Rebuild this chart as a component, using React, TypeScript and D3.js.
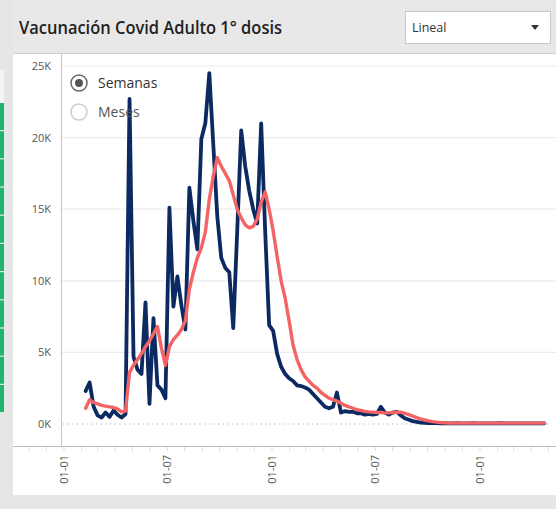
import React from 'react';
import * as d3 from 'd3';

// weekly series, first week starting 2021-02-08
const startWeek = new Date(2021, 1, 8);

const semanas = [
  2300, 2900, 1200, 600, 450, 800, 500, 950, 650, 450,
  700, 22700, 4700, 3800, 3500, 8500, 1400, 7400, 2700, 2400,
  1800, 15100, 8200, 10300, 8300, 6600, 16500, 14200, 12200, 19900,
  21000, 24500, 19500, 14500, 11600, 10900, 10600, 6700, 13500, 20500,
  18000, 16300, 15000, 14000, 21000, 13500, 6900, 6500, 4900, 4000,
  3500, 3200, 3000, 2700, 2650, 2550, 2400, 2100, 1800, 1500,
  1200, 1100, 1200, 2200, 800, 900, 850, 850, 750, 750,
  650, 700, 650, 700, 1200, 800, 650, 800, 850, 600,
  400, 300, 200, 150, 100, 80, 70, 60, 60, 50,
  60, 50, 50, 60, 50, 40, 50, 60, 50, 40,
  50, 50, 40, 50, 60, 50, 40, 50, 50, 40,
  50, 40, 50, 40, 40, 50,
];

const tendencia = [
  1100, 1700, 1500, 1400, 1300, 1250, 1200, 1150, 1050, 850,
  900, 3600, 4100, 4500, 4900, 5400, 5800, 6300, 6800, 5300,
  4100, 5400, 5900, 6200, 6600, 7200, 9400, 10600, 11600, 12300,
  13400, 15700, 17300, 18600, 18000, 17500, 17000, 16000, 15000, 14400,
  13900, 13700, 13800, 14300, 15500, 16200, 15000, 13500, 11700, 10000,
  8800, 7200, 5500, 4500, 3800, 3300, 3000, 2700, 2500, 2200,
  2000, 1800, 1700, 1600, 1450, 1300, 1200, 1100, 1000, 950,
  880, 850, 830, 800, 800, 780, 780, 800, 820, 830,
  750, 650, 550, 450, 350, 280, 220, 170, 130, 100,
  80, 60, 60, 60, 60, 60, 60, 60, 60, 60,
  60, 60, 60, 60, 60, 60, 60, 60, 60, 60,
  60, 60, 60, 60, 60, 60,
];

const yTicks = [0, 5000, 10000, 15000, 20000, 25000];
const legendItems = ['Semanas', 'Meses'];
const title = 'Vacunación Covid Adulto 1° dosis';
const dropdownLabel = 'Lineal';

const W = 556;
const H = 509;
const FONT = '"Open Sans", "Segoe UI", sans-serif';

export default function App() {
  const x = d3.scaleTime()
    .domain([new Date(2021, 0, 1), new Date(2023, 0, 1)])
    .range([64, 480]);
  const y = d3.scaleLinear().domain([0, 25000]).range([424, 66]);

  const dates = semanas.map((_, i) => d3.timeWeek.offset(startWeek, i));

  const line = d3.line<number>()
    .x((_, i) => x(dates[i]))
    .y(d => y(d));

  const months = d3.timeMonth.range(new Date(2020, 10, 1), new Date(2023, 7, 1))
    .filter(d => x(d) > 14 && x(d) < W - 2);
  const fmt = d3.timeFormat('%d-%m');

  return (
    <div style={{ position: 'fixed', left: 0, top: 0 }}>
      <svg width={W} height={H} style={{ display: 'block', background: '#fff' }}>
        {/* left strip */}
        <rect x={0} y={0} width={13} height={H} fill="#e6e6e6" />
        <rect x={0} y={70} width={4} height={33} fill="#f4f4f4" />
        {d3.range(11).map(i => (
          <rect key={i} x={0} y={103 + i * 28.2} width={4} height={27} fill="#1fb56f" />
        ))}

        {/* header */}
        <rect x={13} y={0} width={W - 13} height={53} fill="#e8e8e8" />
        <line x1={13} x2={W} y1={53.5} y2={53.5} stroke="#cfcfcf" />
        <text x={19} y={34} fontFamily={FONT} fontSize={17.5} fontWeight={600} fill="#222"
          textLength={263} lengthAdjust="spacingAndGlyphs">{title}</text>
        <rect x={405.5} y={11.5} width={145} height={32} fill="#fff" stroke="#c8c8c8" />
        <text x={412} y={32} fontFamily={FONT} fontSize={12.5} fill="#333">{dropdownLabel}</text>
        <path d="M531,25 L539,25 L535,30 Z" fill="#333" />

        {/* grid */}
        {yTicks.map(t => t === 0 ? (
          <line key={t} x1={63} x2={W - 4} y1={y(t)} y2={y(t)} stroke="#aaa" strokeDasharray="1.2,3.5" />
        ) : (
          <line key={t} x1={61} x2={W} y1={y(t)} y2={y(t)} stroke="#ececec" strokeWidth={1.2} />
        ))}
        {yTicks.map(t => (
          <text key={'l' + t} x={51} y={y(t) + 4} textAnchor="end" fontFamily={FONT} fontSize={11} fill="#555">
            {t / 1000 + 'K'}
          </text>
        ))}

        {/* axes */}
        <line x1={61.5} x2={61.5} y1={54} y2={446} stroke="#c4c4c4" />
        <line x1={13} x2={W} y1={446.5} y2={446.5} stroke="#bdbdbd" />
        {months.map(m => (
          <line key={+m} x1={x(m)} x2={x(m)} y1={447} y2={451} stroke="#dadada" />
        ))}
        {months.filter(m => m.getMonth() % 6 === 0).map(m => (
          <text key={'t' + +m} transform={`translate(${x(m) + 4},455) rotate(-90)`}
            textAnchor="end" fontFamily={FONT} fontSize={11} fill="#555">{fmt(m)}</text>
        ))}

        {/* bottom band */}
        <rect x={13} y={495} width={W - 13} height={H - 495} fill="#e6e6e6" />

        {/* series */}
        <path d={line(semanas) || ''} fill="none" stroke="#0c2a62" strokeWidth={3.8}
          strokeLinejoin="round" strokeLinecap="round" />
        <path d={line(tendencia) || ''} fill="none" stroke="#f46464" strokeWidth={3.4}
          strokeLinejoin="round" strokeLinecap="round" />

        {/* legend */}
        {legendItems.map((name, i) => (
          <g key={name} transform={`translate(79,${83 + i * 29})`}>
            <circle r={8} fill="#fff" stroke={i === 0 ? '#666' : '#ccc'} strokeWidth={1.5} />
            {i === 0 && <circle r={4} fill="#555" />}
            <text x={19} y={5} fontFamily={FONT} fontSize={14} fill={i === 0 ? '#333' : '#555'}>{name}</text>
          </g>
        ))}
      </svg>
    </div>
  );
}
